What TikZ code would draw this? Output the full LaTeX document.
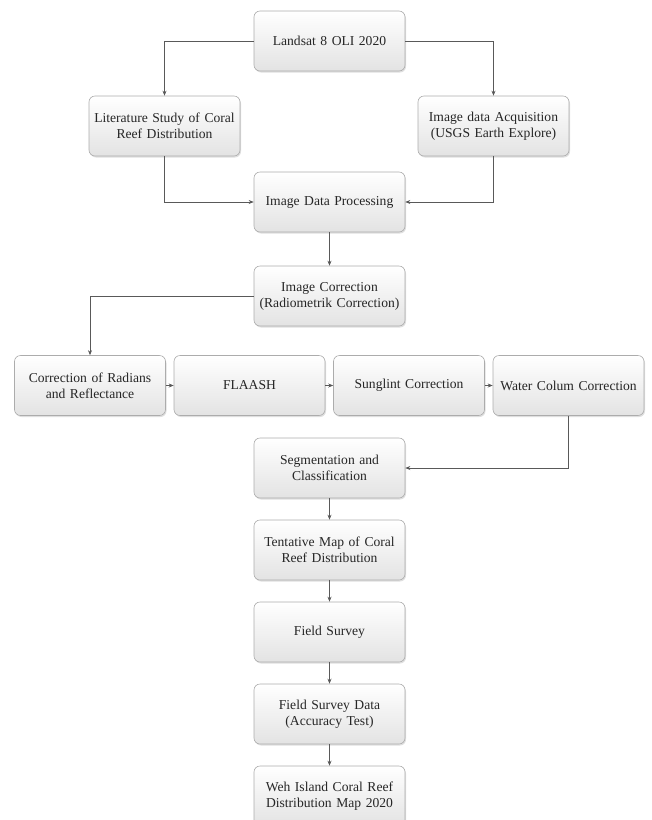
\documentclass[tikz,border=0pt]{standalone}
\usepackage{fontspec}
\setmainfont{Liberation Serif}
\usetikzlibrary{arrows.meta,shadows}
\begin{document}
\begin{tikzpicture}[x=1pt,y=-1pt,
  box/.style={rectangle, rounded corners=6pt, draw=gray!65, line width=0.6pt,
    top color=white, bottom color=gray!22, minimum width=151pt, minimum height=60pt,
    align=center, text width=150pt, inner sep=0.5pt, text=black!85,
    font=\fontsize{13.6}{16}\selectfont,
    drop shadow={shadow xshift=1pt, shadow yshift=-1.5pt, opacity=0.25, fill=gray}},
  conn/.style={draw=black!65, line width=0.6pt, -{Stealth[length=5pt,width=4pt]}}]
\useasboundingbox (0,0) rectangle (652,820);
\node[box] (land) at (329.5,41) {Landsat 8 OLI 2020};
\node[box] (lit) at (164.5,126) {Literature Study of Coral\\Reef Distribution};
\node[box] (acq) at (493.5,126) {Image data Acquisition\\(USGS Earth Explore)};
\node[box] (proc) at (329.5,202) {Image Data Processing};
\node[box] (corr) at (329.5,296) {Image Correction\\(Radiometrik Correction)};
\node[box] (rad) at (90,385.5) {Correction of Radians\\and Reflectance};
\node[box] (fla) at (249.5,385.5) {FLAASH};
\node[box] (sun) at (409,385.5) {Sunglint Correction};
\node[box] (wat) at (568.5,385.5) {Water Colum Correction};
\node[box] (seg) at (329.5,468) {Segmentation and\\Classification};
\node[box] (tent) at (329.5,550) {Tentative Map of Coral\\Reef Distribution};
\node[box] (fs) at (329.5,632) {Field Survey};
\node[box] (fsd) at (329.5,714) {Field Survey Data\\(Accuracy Test)};
\node[box] (weh) at (329.5,796) {Weh Island Coral Reef\\Distribution Map 2020};
\draw[conn] (land.west) -| (lit.north);
\draw[conn] (land.east) -| (acq.north);
\draw[conn] (lit.south) |- (proc.west);
\draw[conn] (acq.south) |- (proc.east);
\draw[conn] (proc) -- (corr);
\draw[conn] (corr.west) -| (rad.north);
\draw[conn] (rad) -- (fla);
\draw[conn] (fla) -- (sun);
\draw[conn] (sun) -- (wat);
\draw[conn] (wat.south) |- (seg.east);
\draw[conn] (seg) -- (tent);
\draw[conn] (tent) -- (fs);
\draw[conn] (fs) -- (fsd);
\draw[conn] (fsd) -- (weh);
\end{tikzpicture}
\end{document}
